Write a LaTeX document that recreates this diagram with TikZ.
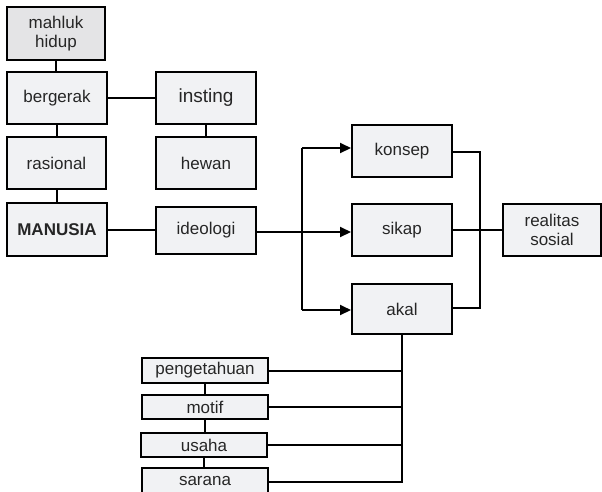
\documentclass[tikz,border=0pt]{standalone}
\usepackage{fontspec}
\setmainfont{Liberation Sans}
\usetikzlibrary{arrows.meta}
\definecolor{boxfill}{HTML}{F1F2F4}
\definecolor{boxfilldark}{HTML}{E4E4E6}
\tikzset{
  box/.style={draw=black, line width=2pt, fill=boxfill, inner sep=0pt, align=center,
    font=\fontsize{17}{18.5}\selectfont, text=black!85},
  conn/.style={draw=black, line width=2pt},
  arr/.style={conn, -{Triangle[length=11pt,width=10pt]}},
}
\begin{document}
\begin{tikzpicture}[x=1pt,y=-1pt]
\useasboundingbox (0,0) rectangle (602,491);
\clip (0,0) rectangle (602,491);
\fill[white] (0,0) rectangle (602,491);
% left column
\node[box, fill=boxfilldark, minimum width=98pt, minimum height=53pt] (mahluk) at (56,33.5) {mahluk\\hidup};
\node[box, minimum width=100pt, minimum height=52pt] (bergerak) at (57,98) {bergerak};
\node[box, minimum width=99pt, minimum height=52pt] (rasional) at (56.5,163) {rasional};
\node[box, minimum width=100pt, minimum height=53pt, font=\fontsize{17}{18.5}\selectfont\bfseries] (manusia) at (57,229.5) {MANUSIA};
% second column
\node[box, minimum width=100pt, minimum height=52pt, font=\fontsize{19}{20}\selectfont] (insting) at (206,98) {insting};
\node[box, minimum width=100pt, minimum height=52pt] (hewan) at (206,163) {hewan};
\node[box, minimum width=100pt, minimum height=47pt] (ideologi) at (206,230.5) {ideologi};
% third column
\node[box, minimum width=100pt, minimum height=52pt] (konsep) at (402,151) {konsep};
\node[box, minimum width=100pt, minimum height=52pt] (sikap) at (402,230) {sikap};
\node[box, minimum width=100pt, minimum height=50pt] (akal) at (402,309) {akal};
\node[box, minimum width=98pt, minimum height=52pt] (realitas) at (552,230) {realitas\\sosial};
% bottom column
\node[box, minimum width=126pt, minimum height=25pt] (peng) at (205,370.5) {pengetahuan};
\node[box, minimum width=126pt, minimum height=24pt] (motif) at (205,407) {motif};
\node[box, minimum width=126pt, minimum height=24pt] (usaha) at (204,445) {usaha};
\node[box, minimum width=126pt, minimum height=26pt] (sarana) at (205,481) {sarana};
% connectors
\coordinate (br) at (302,232);
\coordinate (bt) at (302,148);
\coordinate (bb) at (302,310);
\coordinate (rt) at (480,152);
\coordinate (rb) at (480,308);
\coordinate (ak) at (402,482);
\coordinate (mi) at (150,230);
\draw[conn] (mahluk.south) -- (mahluk.south |- bergerak.north);
\draw[conn] (bergerak.south) -- (bergerak.south |- rasional.north);
\draw[conn] (rasional.south) -- (rasional.south |- manusia.north);
\draw[conn] (insting.south) -- (insting.south |- hewan.north);
\draw[conn] (bergerak.east) -- (insting.west);
\draw[conn] (manusia.east |- mi) -- (ideologi.west |- mi);
\draw[conn] (ideologi.east |- br) -- (br);
\draw[conn] (bt) -- (bb);
\draw[arr] (br) -- (sikap.west |- br);
\draw[arr] (bt) -- (konsep.west |- bt);
\draw[arr] (bb) -- (akal.west |- bb);
\draw[conn] (konsep.east |- rt) -- (rt) -- (rb) -- (akal.east |- rb);
\draw[conn] (sikap.east) -- (realitas.west);
\draw[conn] (akal.south) -- (ak) -- (sarana.east |- ak);
\draw[conn] (peng.east) -- (peng.east -| ak);
\draw[conn] (motif.east) -- (motif.east -| ak);
\draw[conn] (usaha.east) -- (usaha.east -| ak);
\draw[conn] (peng.south) -- (peng.south |- motif.north);
\draw[conn] (motif.south) -- (motif.south |- usaha.north);
\draw[conn] (usaha.south) -- (usaha.south |- sarana.north);
\end{tikzpicture}
\end{document}
